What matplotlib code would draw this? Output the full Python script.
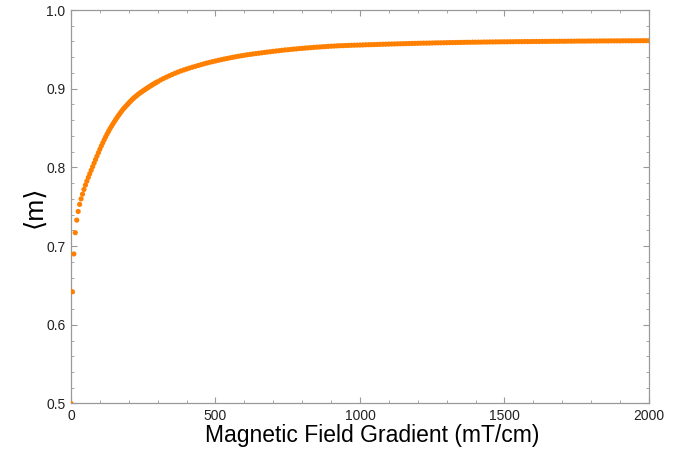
import matplotlib
matplotlib.use("Agg")
import matplotlib.pyplot as plt
from matplotlib.ticker import MultipleLocator

# field gradient (mT/cm): step 5 up to 300, then step 10
gradient = list(range(0, 301, 5)) + list(range(310, 2001, 10))

# <m>
m_avg = [
    0.5000, 0.6420, 0.6900, 0.7170, 0.7330, 0.7440, 0.7530, 0.7600, 0.7660, 0.7720,
    0.7775, 0.7825, 0.7873, 0.7919, 0.7963, 0.8009, 0.8054, 0.8099, 0.8143, 0.8187,
    0.8230, 0.8272, 0.8312, 0.8351, 0.8388, 0.8424, 0.8458, 0.8491, 0.8522, 0.8552,
    0.8580, 0.8609, 0.8636, 0.8663, 0.8688, 0.8713, 0.8737, 0.8757, 0.8778, 0.8798,
    0.8818, 0.8837, 0.8856, 0.8873, 0.8890, 0.8905, 0.8921, 0.8935, 0.8949, 0.8961,
    0.8974, 0.8987, 0.8999, 0.9011, 0.9023, 0.9035, 0.9046, 0.9057, 0.9068, 0.9079,
    0.9089,
    # from 310 on, step 10
    0.9110, 0.9129, 0.9147, 0.9164, 0.9180, 0.9196, 0.9211, 0.9225, 0.9238, 0.9250,
    0.9262, 0.9273, 0.9284, 0.9295, 0.9305, 0.9316, 0.9326, 0.9335, 0.9344, 0.9352,
    0.9361, 0.9369, 0.9377, 0.9384, 0.9392, 0.9399, 0.9406, 0.9413, 0.9419, 0.9425,
    0.9431, 0.9436, 0.9441, 0.9446, 0.9451, 0.9456, 0.9461, 0.9466, 0.9470, 0.9475,
    0.9479, 0.9483, 0.9488, 0.9492, 0.9495, 0.9499, 0.9503, 0.9506, 0.9510, 0.9513,
    0.9516, 0.9519, 0.9522, 0.9525, 0.9528, 0.9530, 0.9533, 0.9535, 0.9538, 0.9540,
    0.9542, 0.9544, 0.9546, 0.9547, 0.9549, 0.9550, 0.9552, 0.9553, 0.9554, 0.9555,
    0.9556, 0.9558, 0.9559, 0.9560, 0.9561, 0.9562, 0.9564, 0.9565, 0.9566, 0.9567,
    0.9568, 0.9569, 0.9570, 0.9571, 0.9572, 0.9573, 0.9574, 0.9575, 0.9576, 0.9577,
    0.9578, 0.9579, 0.9579, 0.9580, 0.9581, 0.9582, 0.9583, 0.9583, 0.9584, 0.9585,
    0.9586, 0.9586, 0.9587, 0.9588, 0.9588, 0.9589, 0.9590, 0.9590, 0.9591, 0.9591,
    0.9592, 0.9592, 0.9593, 0.9593, 0.9594, 0.9594, 0.9595, 0.9595, 0.9596, 0.9596,
    0.9596, 0.9597, 0.9597, 0.9598, 0.9598, 0.9598, 0.9599, 0.9599, 0.9599, 0.9600,
    0.9600, 0.9600, 0.9601, 0.9601, 0.9601, 0.9602, 0.9602, 0.9602, 0.9603, 0.9603,
    0.9603, 0.9604, 0.9604, 0.9604, 0.9605, 0.9605, 0.9605, 0.9605, 0.9606, 0.9606,
    0.9606, 0.9606, 0.9607, 0.9607, 0.9607, 0.9607, 0.9608, 0.9608, 0.9608, 0.9608,
    0.9609, 0.9609, 0.9609, 0.9609, 0.9609, 0.9610, 0.9610, 0.9610, 0.9610, 0.9610,
]

plt.rcParams['font.family'] = ['Liberation Sans', 'DejaVu Sans']

fig = plt.figure(figsize=(6.85, 4.55), dpi=100)
ax = fig.add_axes([0.1036, 0.1132, 0.8438, 0.8648])

# one colour per point: keeps scatter off the pixel-snapped marker fast path
dot_colors = ["#ff8000"] * len(gradient)
ax.scatter(gradient, m_avg, s=14, linewidths=0, c=dot_colors, zorder=3)

ax.set_xlim(0, 2000)
ax.set_ylim(0.5, 1.0)
ax.xaxis.set_major_locator(MultipleLocator(500))
ax.xaxis.set_minor_locator(MultipleLocator(100))
ax.yaxis.set_major_locator(MultipleLocator(0.1))
ax.yaxis.set_minor_locator(MultipleLocator(0.02))
ax.tick_params(which="both", direction="in", top=True, right=True,
               color="#999999", labelsize=10, labelcolor="#222222")
ax.tick_params(which="major", length=4, width=0.8, pad=4)
ax.tick_params(which="minor", length=2, width=0.6)
for s in ax.spines.values():
    s.set_color("#999999")
    s.set_linewidth(0.9)

ax.set_xlabel("Magnetic Field Gradient (mT/cm)", fontsize=16.5)
ax.xaxis.set_label_coords(0.521, -0.051)
ax.set_ylabel("⟨m⟩", fontsize=19)
ax.yaxis.set_label_coords(-0.043, 0.5)

fig.savefig("out.png", dpi=100)
